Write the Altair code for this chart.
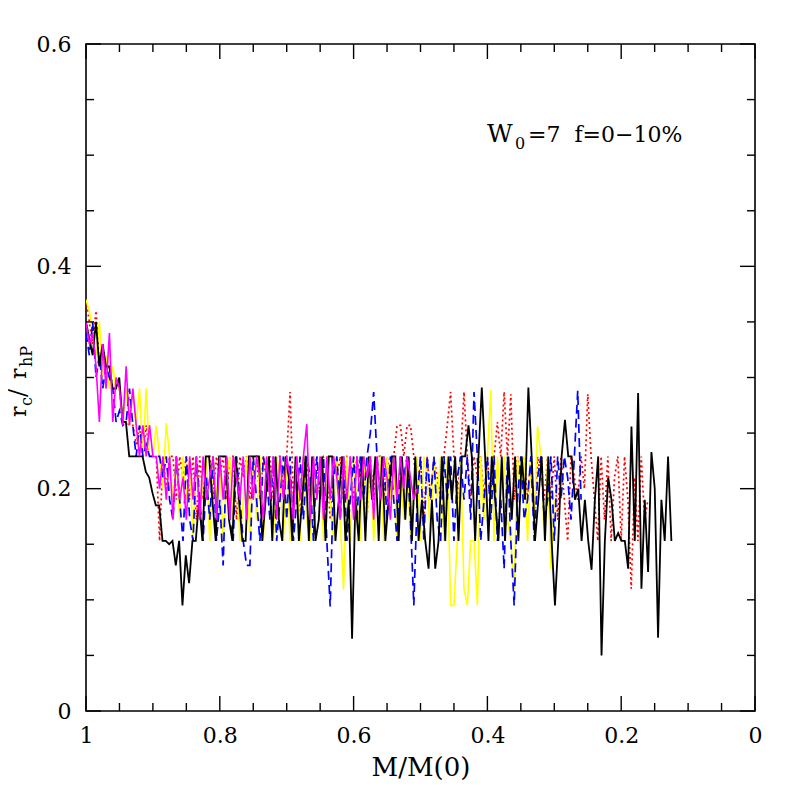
import altair as alt
import numpy as np
import pandas as pd

# ---- data (y values in units of 0.001) ----
black_x_span = (1.0, 0.125)
black_y = [350, 335, 320, 350, 310, 330, 310, 310,
           290, 290, 300, 260, 260,
           229, 229, 229, 229, 229,
           215, 210, 196, 185, 185,
           153, 153, 150, 153,
           131, 153, 95, 140, 115,
           153, 153, 190, 153, 229,
           229, 190, 153, 229, 229, 229, 172, 153, 229, 190, 153, 153, 229, 229, 229, 229,
           153, 190, 229, 153, 229, 172, 153, 229, 210, 153, 229, 153, 190, 229, 153, 229,
           153, 172, 229, 153, 229, 229, 153, 190, 229, 153, 190,
           65,
           190, 153, 229, 153, 229, 190, 229, 153, 229, 153, 190, 229, 229, 153, 229, 172,
           229, 153, 229, 153, 190,
           153, 128, 190, 128, 153,
           229, 153, 229, 190, 229, 153, 229, 229, 257, 229, 153, 229,
           291,
           229, 153, 229, 190, 153, 229, 153, 229, 172, 229, 153, 229, 190,
           291,
           229, 153, 190, 229, 153, 229, 153,
           95,
           153, 229,
           262,
           229, 229, 190, 200, 153, 190, 153,
           127,
           190, 229,
           50,
           153, 210, 190, 153, 160, 153, 153,
           128, 256, 153, 286, 110, 190, 125, 233, 200, 66, 190, 153, 229, 153]

red_x_span = (1.0, 0.16)
red_y = [370, 350, 330, 360, 310, 330, 300, 310, 290, 290,
         290, 260, 260, 257, 257, 240, 257, 229, 257, 229,
         229, 229, 153, 229, 200, 229, 229, 190, 229, 210,
         229, 190, 229, 172, 229, 190, 229, 229, 190, 229,
         210, 229, 190, 229, 229, 172, 229, 210, 229, 190,
         229, 229, 190, 229, 210, 229, 190, 229, 229, 200,
         229, 287, 190, 229, 172, 229, 229, 190, 210, 229,
         190, 229, 229, 172, 229, 210, 229, 190, 229, 229,
         190, 229, 210, 229, 172, 229, 190, 229, 229, 190,
         229, 210, 229, 257, 257, 229, 257, 257, 229, 190,
         229, 172, 229, 190, 229, 210, 190, 229, 257, 287,
         229, 190, 229, 287, 229, 190, 229, 210, 229, 190,
         229, 190, 229, 260, 229, 287, 229, 285, 190, 229,
         210, 229, 190, 229, 172, 229, 210, 190, 229, 190,
         229, 172, 229, 190, 153, 229, 210, 190, 229, 200,
         285,
         229, 190, 153, 229, 172, 229, 153, 210, 229,
         153, 229, 190, 110, 210, 153, 229, 172, 190]

blue_x_span = (1.0, 0.26)
blue_y = [340, 320, 350, 300, 320, 290, 310, 300, 290, 260,
          270, 257, 260, 290, 257, 229, 257, 229, 240, 229,
          229, 229, 229, 210, 229, 190, 172, 229, 190, 153,
          229, 172, 153, 229, 190, 153, 210, 172, 229, 153,
          190, 131, 229, 172, 153, 229, 190, 153, 131, 131,
          229, 190, 153, 229, 210, 172, 229, 153, 190, 229,
          172, 229, 153, 190, 229, 172, 229, 210, 153, 229,
          190, 229, 153, 94, 210, 229, 172, 229, 153, 190,
          229, 172, 229, 190, 229, 250, 287, 229, 190, 229,
          172, 229, 190, 153, 229, 210, 229, 172, 95, 190,
          229, 153, 229, 190, 229, 172, 153, 229, 190, 229,
          153, 210, 229, 190, 229, 172, 287, 229, 153, 190,
          229, 172, 229, 153, 190, 128, 229, 153, 95, 190,
          229, 172, 190, 229, 153, 210, 229, 172, 190, 229,
          153, 229, 190, 229, 210, 172, 229, 288, 190]

yellow_x_span = (1.0, 0.30)
yellow_y = [370, 360, 340, 320, 350, 300, 320, 290, 310, 290,
            290, 260, 290, 257, 290, 257, 290, 229, 290, 229,
            229, 257, 229, 200, 259, 229, 190, 229, 172, 229,
            190, 229, 153, 229, 172, 210, 229, 153, 229, 190,
            229, 153, 210, 229, 172, 229, 153, 190, 229, 153,
            229, 172, 229, 153, 229, 190, 153, 229, 210, 153,
            229, 153, 190, 229, 153, 229, 172, 153, 229, 190,
            229, 153, 229, 190, 153, 229, 172, 109, 229, 153,
            229, 190, 153, 229, 172, 229, 153, 210, 229, 153,
            229, 190, 229, 153, 229, 172, 229, 153, 190, 229,
            153, 229, 210, 153, 229, 190, 229, 153, 229, 95,
            95, 153, 229, 110, 95, 153, 153, 95, 229, 172,
            229, 289, 153, 229, 190, 229, 172, 153, 110, 229,
            190, 229, 153, 229, 172, 256, 229, 153, 229, 128, 190]

magenta_x_span = (1.0, 0.505)
magenta_y = [350, 330, 340, 310, 260, 330, 290, 340, 260, 300,
             290, 257, 310, 257, 290, 257, 229, 257, 229, 257,
             229, 229, 200, 229, 190, 229, 172, 229, 190, 210,
             172, 229, 190, 229, 172, 229, 190, 210, 229, 172,
             229, 190, 229, 172, 229, 210, 190, 229, 172, 229,
             190, 229, 210, 172, 229, 190, 229, 172, 229, 190,
             229, 210, 172, 229, 190, 229, 258, 172, 229, 190,
             229, 172, 229, 190, 229, 210, 172, 229, 190, 229,
             172, 229, 190, 229, 210, 229, 172, 229, 190, 229,
             210, 172, 229, 190, 229, 200, 229, 210, 190, 200]

x_major = [0.0, 0.2, 0.4, 0.6, 0.8, 1.0]
x_minor = [0.05, 0.1, 0.15, 0.25, 0.3, 0.35, 0.45, 0.5, 0.55, 0.65, 0.7, 0.75, 0.85, 0.9, 0.95]
y_major = [0.0, 0.2, 0.4, 0.6]
y_minor = [0.05, 0.1, 0.15, 0.25, 0.3, 0.35, 0.45, 0.5, 0.55]

x_title = "M/M(0)"
anno_main, anno_sub, anno_rest = "W", "0", "=7 \u00a0f=0\u221210%"

W, H = 669, 667
FONT = "DejaVu Serif"
MAJ, MIN = 15, 8

def series_df(span, yvals):
    xs = np.linspace(span[0], span[1], len(yvals))
    return pd.DataFrame({"x": xs, "y": np.array(yvals) / 1000.0})

xscale = alt.Scale(domain=[0, 1], reverse=True, nice=False, zero=False)
yscale = alt.Scale(domain=[0, 0.6], nice=False, zero=False)

xaxis = alt.Axis(values=x_major, format="~g", ticks=False, domain=False, grid=False,
                 labelFont=FONT, labelFontSize=22, labelColor="black", labelPadding=14,
                 labelFlush=False, labelOverlap=False,
                 title=x_title, titleFont=FONT, titleFontSize=26, titleFontWeight="normal",
                 titleColor="black", titlePadding=8)
yaxis = alt.Axis(values=y_major, format="~g", ticks=False, domain=False, grid=False,
                 labelFont=FONT, labelFontSize=22, labelColor="black", labelPadding=15,
                 labelFlush=False, labelOverlap=False, title="")

def X(field="x"):
    return alt.X(f"{field}:Q", scale=xscale, axis=xaxis, title=x_title)

def Y(field="y"):
    return alt.Y(f"{field}:Q", scale=yscale, axis=yaxis, title="")

def line(span, yvals, color, dash=None, width=1.5):
    kw = dict(color=color, strokeWidth=width, clip=True)
    if dash:
        kw["strokeDash"] = dash
    return alt.Chart(series_df(span, yvals)).mark_line(**kw).encode(x=X(), y=Y())

layers = [
    line(red_x_span, red_y, "#ff0000", [2, 3], 1.7),
    line(yellow_x_span, yellow_y, "#ffff00", None, 1.6),
    line(blue_x_span, blue_y, "#0000ff", [9, 5], 1.7),
    line(black_x_span, black_y, "#000000", None, 1.8),
    line(magenta_x_span, magenta_y, "#ff00ff", None, 1.6),
]

def xticks(vals, length):
    d = pd.DataFrame({"v": vals})
    bot = alt.Chart(d).mark_rule(color="black", strokeWidth=1.4).encode(
        x=X("v"), y=alt.value(H), y2=alt.value(H - length))
    top = alt.Chart(d).mark_rule(color="black", strokeWidth=1.4).encode(
        x=X("v"), y=alt.value(0), y2=alt.value(length))
    return [bot, top]

def yticks(vals, length):
    d = pd.DataFrame({"v": vals})
    lef = alt.Chart(d).mark_rule(color="black", strokeWidth=1.4).encode(
        y=Y("v"), x=alt.value(0), x2=alt.value(length))
    rig = alt.Chart(d).mark_rule(color="black", strokeWidth=1.4).encode(
        y=Y("v"), x=alt.value(W), x2=alt.value(W - length))
    return [lef, rig]

layers += xticks(x_major, MAJ) + xticks(x_minor, MIN) + yticks(y_major, MAJ) + yticks(y_minor, MIN)

one = pd.DataFrame({"k": [0]})

def txt(s, x, y, size, angle=0, dx=0, dy=0):
    kw = dict(text=s, font=FONT, fontSize=size, color="black", align="left",
              baseline="alphabetic", dx=dx, dy=dy)
    if angle:
        kw["angle"] = angle
    return alt.Chart(one).mark_text(**kw).encode(x=alt.value(x), y=alt.value(y))

# y-axis title r_c / r_hP (rotated)
yt_x, yt_y = -60, 373
layers += [
    txt("r", yt_x, yt_y, 22, 270, 0, 0),
    txt("c", yt_x, yt_y, 16, 270, 11, 6),
    txt("/", yt_x, yt_y, 24, 270, 20, 0),
    txt("r", yt_x, yt_y, 22, 270, 38, 0),
    txt("hP", yt_x, yt_y, 16, 270, 50, 6),
]

# annotation W0=7 f=0-10%
layers += [
    txt(anno_main, 401, 98, 25),
    txt(anno_sub, 429, 105, 16),
    txt(anno_rest, 442, 98, 22),
]

chart = alt.layer(*layers).properties(
    width=W, height=H,
    autosize=alt.AutoSizeParams(type="none"),
    padding={"left": 78, "top": 36, "right": 34, "bottom": 70},
    background="white",
).configure_view(stroke="black", strokeWidth=1.6)

chart.save("out.html", embed_options={"renderer": "svg", "actions": False})
